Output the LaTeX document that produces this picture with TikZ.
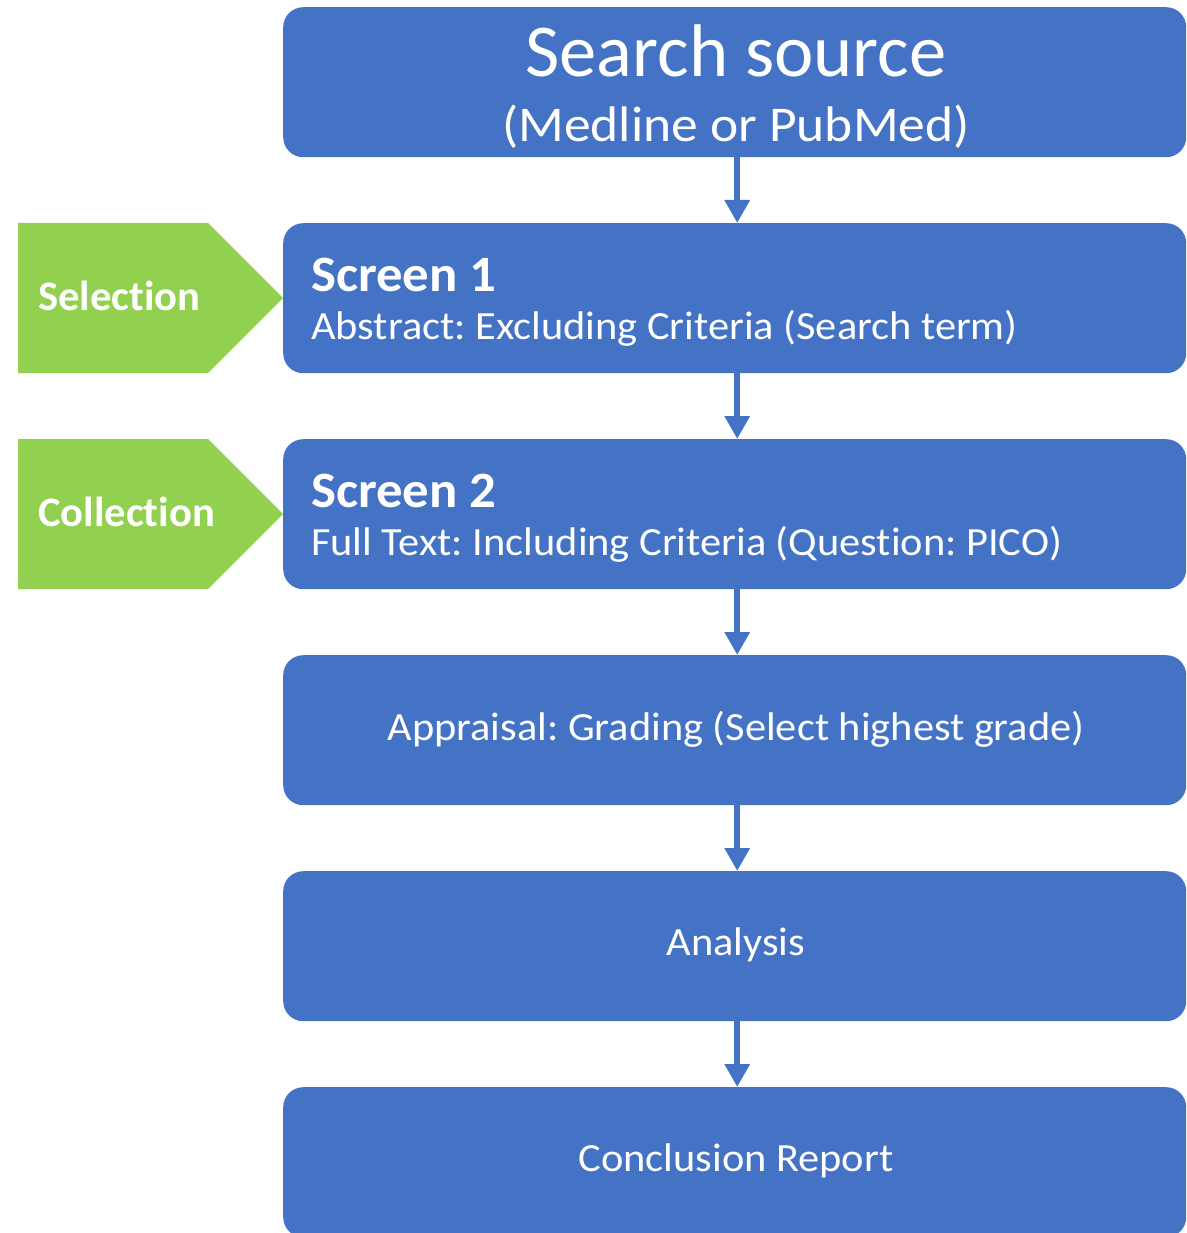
\documentclass[tikz,border=0pt]{standalone}
\usepackage{fontspec}
\defaultfontfeatures{Ligatures=NoCommon,Contextuals=NoAlternate}
\setmainfont{Carlito}
\newfontfamily\bodyfont[FakeStretch=1.06]{Carlito}
\newfontfamily\subfont[FakeStretch=1.07]{Carlito}
\newfontfamily\headfont[FakeStretch=1.035]{Carlito}
\newfontfamily\tabfont[FakeStretch=1.015]{Carlito}
\usetikzlibrary{arrows.meta}
\definecolor{boxblue}{HTML}{4472C4}
\definecolor{tabgreen}{HTML}{92D050}
\newcommand{\fs}[1]{\fontsize{#1}{#1}\selectfont}
\frenchspacing

\begin{document}
\begin{tikzpicture}[x=1pt,y=-1pt,
  stepbox/.style={fill=boxblue, draw=none, rounded corners=20pt,
    minimum width=903pt, minimum height=150pt, anchor=north west, inner sep=0pt},
  txt/.style={text=white, inner sep=0pt},
  flow/.style={draw=boxblue, line width=6.5pt,
    -{Triangle[width=24pt,length=23pt]}},
  tab/.style={fill=tabgreen, draw=none}]
\useasboundingbox (0,0) rectangle (1186,1233);

% process boxes
\node[stepbox] (src)  at (283,7)    {};
\node[stepbox] (scr1) at (283,223)  {};
\node[stepbox] (scr2) at (283,439)  {};
\node[stepbox] (appr) at (283,655)  {};
\node[stepbox] (anal) at (283,871)  {};
\node[stepbox] (conc) at (283,1087) {};

% side tabs
\path[tab] (18,223) -- (208,223) -- (283,298) -- (208,373) -- (18,373) -- cycle;
\path[tab] (18,439) -- (208,439) -- (283,514) -- (208,589) -- (18,589) -- cycle;
\node[txt, anchor=base west] (sel) at (38,310) {\tabfont\fs{42}\bfseries Selection};
\node[txt, anchor=base west] (col) at (38,526) {\tabfont\fs{42}\bfseries Collection};

% box texts
\node[txt, anchor=base] (t1a) at (736,77)  {\fs{74.6}Search source};
\node[txt, anchor=base] (t1b) at (736,142) {\subfont\fs{50}(Medline or PubMed)};
\node[txt, anchor=base west] (t2a) at (311,291) {\headfont\fs{51}\bfseries Screen 1};
\node[txt, anchor=base west] (t2b) at (311,339) {\bodyfont\fs{40}Abstract: Excluding Criteria (Search term)};
\node[txt, anchor=base west] (t3a) at (311,507) {\headfont\fs{51}\bfseries Screen 2};
\node[txt, anchor=base west] (t3b) at (311,555) {\bodyfont\fs{40}Full Text: Including Criteria (Question: PICO)};
\node[txt, anchor=base] (t4) at (736,740)  {\bodyfont\fs{40}Appraisal: Grading (Select highest grade)};
\node[txt, anchor=base] (t5) at (736,955)  {\bodyfont\fs{40}Analysis};
\node[txt, anchor=base] (t6) at (736,1171) {\bodyfont\fs{40}Conclusion Report};

% connectors
\foreach \a/\b in {src/scr1, scr1/scr2, scr2/appr, appr/anal, anal/conc}
  \draw[flow] ([xshift=2.5pt]\a.south) -- ([xshift=2.5pt]\b.north);
\end{tikzpicture}
\end{document}
